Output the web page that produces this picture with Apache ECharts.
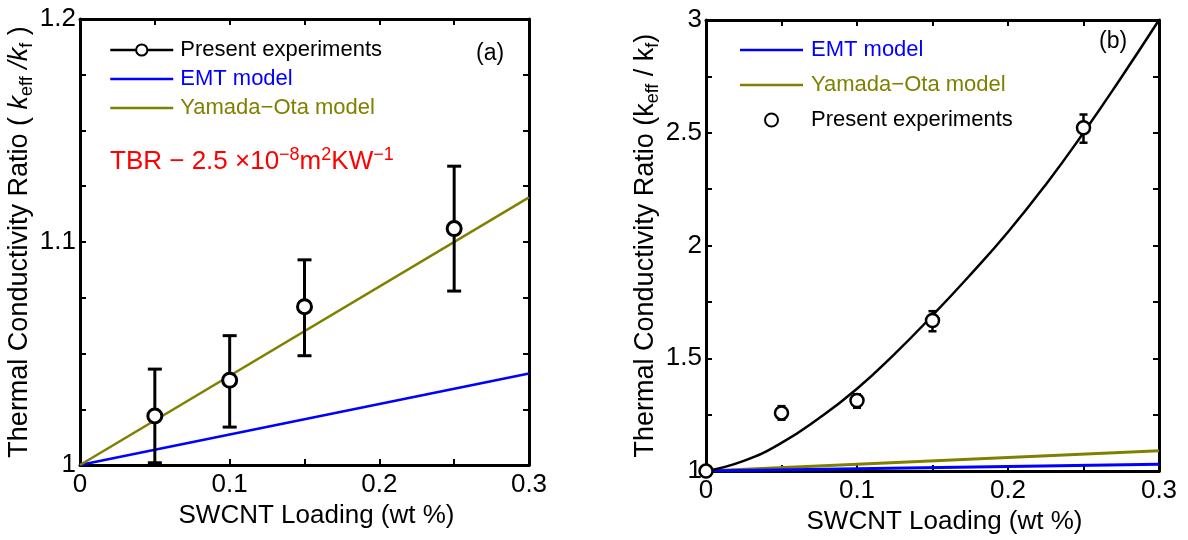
<!DOCTYPE html>
<html>
<head>
<meta charset="utf-8">
<script src="https://cdn.jsdelivr.net/npm/echarts@6/dist/echarts.min.js"></script>
<style>
  html, body { margin: 0; padding: 0; background: #fff; }
  #main { width: 1188px; height: 540px; }
</style>
</head>
<body>
<div id="main"></div>
<script>
// panel (a): measured points + models
const loadingA = [0.05, 0.1, 0.15, 0.25];
const ratioA = [1.022, 1.038, 1.071, 1.106];
const lowA = [1.001, 1.017, 1.049, 1.078];
const highA = [1.043, 1.058, 1.092, 1.134];
const modelX = [0, 0.3];
const emtA = [1, 1.041];
const yamadaA = [1, 1.12];

// panel (b)
const loadingB = [0, 0.05, 0.1, 0.15, 0.25];
const ratioB = [1, 1.258, 1.313, 1.668, 2.522];
const lowB = [1, 1.228, 1.281, 1.62, 2.456];
const highB = [1, 1.288, 1.34, 1.709, 2.581];
const emtB = [1, 1.03];
const yamadaB = [1, 1.09];
const fitX = [0, 0.025, 0.05, 0.075, 0.1, 0.125, 0.15, 0.175, 0.2, 0.225, 0.25, 0.275, 0.3];
const fitB = [1, 1.045, 1.125, 1.235, 1.365, 1.52, 1.69, 1.87, 2.06, 2.27, 2.5, 2.745, 3.0];

const FONT = 'Liberation Sans, Arial, sans-serif';
const OLIVE = '#808000';
const BLUE = '#0000ff';
// plain line icon for the model entries in the legends
const LINE_ICON = 'path://M0,0 L63,0 L63,2.5 L0,2.5 Z';

const zip = (a, b) => a.map((v, i) => [v, b[i]]);
const zip3 = (a, b, c) => a.map((v, i) => [v, b[i], c[i]]);

function errorBars(capHalf, width) {
    return function (params, api) {
        const x = api.value(0);
        const lo = api.coord([x, api.value(1)]);
        const hi = api.coord([x, api.value(2)]);
        const style = { stroke: '#000', lineWidth: width };
        return {
            type: 'group',
            children: [
                { type: 'line', shape: { x1: lo[0], y1: lo[1], x2: hi[0], y2: hi[1] }, style: style },
                { type: 'line', shape: { x1: lo[0] - capHalf, y1: lo[1], x2: lo[0] + capHalf, y2: lo[1] }, style: style },
                { type: 'line', shape: { x1: hi[0] - capHalf, y1: hi[1], x2: hi[0] + capHalf, y2: hi[1] }, style: style }
            ]
        };
    };
}

const near = (v, step) => Math.abs(v / step - Math.round(v / step)) < 1e-6;
const fmt = v => String(parseFloat(v.toFixed(3)));

function xAxisDef(grid, pos) {
    const bottom = pos === 'bottom';
    return {
        type: 'value', gridIndex: grid, position: pos, min: 0, max: 0.3, interval: 0.05,
        axisLine: { show: true, onZero: false, lineStyle: { color: '#000', width: 3 } },
        axisTick: { show: true, inside: true, length: 6, lineStyle: { color: '#000', width: 2 } },
        splitLine: { show: false },
        axisLabel: {
            show: bottom, margin: 7, color: '#000', fontSize: 26, fontFamily: FONT,
            formatter: v => near(v, 0.1) ? fmt(v) : ''
        },
        name: bottom ? 'SWCNT Loading (wt %)' : '',
        nameLocation: 'middle', nameGap: 34,
        nameTextStyle: { color: '#000', fontSize: 26, fontFamily: FONT, padding: [0, 0, 0, 24] }
    };
}

function yAxisDef(grid, pos, min, max, interval, labelStep, name, rich) {
    const left = pos === 'left';
    return {
        type: 'value', gridIndex: grid, position: pos, min: min, max: max, interval: interval,
        axisLine: { show: true, onZero: false, lineStyle: { color: '#000', width: 3 } },
        axisTick: { show: true, inside: true, length: 6, lineStyle: { color: '#000', width: 2 } },
        splitLine: { show: false },
        axisLabel: {
            show: left, margin: 4, color: '#000', fontSize: 26, fontFamily: FONT,
            formatter: v => near(v, labelStep) ? fmt(v) : ''
        },
        name: left ? name : '',
        nameLocation: 'middle', nameGap: 36, nameRotate: 90,
        nameTextStyle: { color: '#000', fontSize: 27, fontFamily: FONT, lineHeight: 32, rich: rich }
    };
}

const richA = {
    i: { fontSize: 27, fontStyle: 'italic', fontFamily: FONT, lineHeight: 32 },
    sub: { fontSize: 18, fontFamily: FONT, verticalAlign: 'bottom', lineHeight: 17 }
};
const richB = {
    sub: { fontSize: 18, fontFamily: FONT, verticalAlign: 'bottom', lineHeight: 17 }
};

const chart = echarts.init(document.getElementById('main'), null, { renderer: 'canvas' });

const option = {
    backgroundColor: '#fff',
    animation: false,
    grid: [
        { left: 80, top: 19, width: 449, height: 446 },
        { left: 706, top: 20, width: 453, height: 452 }
    ],
    xAxis: [
        xAxisDef(0, 'bottom'), xAxisDef(0, 'top'),
        xAxisDef(1, 'bottom'), xAxisDef(1, 'top')
    ],
    yAxis: [
        yAxisDef(0, 'left', 1, 1.2, 0.025, 0.1,
            'Thermal Conductivity Ratio ( {i|k}{sub|eff} {i|/k}{sub|f} )', richA),
        yAxisDef(0, 'right', 1, 1.2, 0.025, 0.1, '', richA),
        yAxisDef(1, 'left', 1, 3, 0.25, 0.5,
            'Thermal Conductivity Ratio (k{sub|eff} / k{sub|f})', richB),
        yAxisDef(1, 'right', 1, 3, 0.25, 0.5, '', richB)
    ],
    legend: [
        {
            orient: 'vertical', left: 104, top: 34, itemWidth: 63, itemHeight: 14, itemGap: 7,
            textStyle: { fontSize: 22, fontFamily: FONT, color: '#000', padding: [0, 0, 0, 2] },
            data: [
                { name: 'Present experiments', lineStyle: { color: '#000', width: 2.5, opacity: 1 } },
                { name: 'EMT model', icon: LINE_ICON, textStyle: { color: BLUE } },
                { name: 'Yamada\u2212Ota model', icon: LINE_ICON, textStyle: { color: OLIVE } }
            ]
        },
        {
            orient: 'vertical', left: 735, top: 34, itemWidth: 63, itemHeight: 13, itemGap: 13,
            textStyle: { fontSize: 22, fontFamily: FONT, color: '#000', padding: [0, 0, 0, 3] },
            data: [
                { name: 'EMT model ', icon: LINE_ICON, textStyle: { color: BLUE } },
                { name: 'Yamada\u2212Ota model ', icon: LINE_ICON, textStyle: { color: OLIVE } },
                { name: 'Present experiments ', icon: 'circle' }
            ]
        }
    ],
    graphic: [
        {
            type: 'text', left: 476, top: 42, z: 10,
            style: { text: '(a)', fontSize: 23, fontFamily: FONT, fill: '#000' }
        },
        {
            type: 'text', left: 1099, top: 30, z: 10,
            style: { text: '(b)', fontSize: 23, fontFamily: FONT, fill: '#000' }
        },
        {
            type: 'text', left: 110, top: 146, z: 10,
            style: {
                text: 'TBR \u2212 2.5 \u00d710{sup|\u22128}m{sup|2}KW{sup|\u22121}',
                fontSize: 26, fontFamily: FONT, fill: '#ff0000', lineHeight: 32,
                rich: {
                    sup: { fontSize: 18, fontFamily: FONT, fill: '#ff0000', verticalAlign: 'top', lineHeight: 17 }
                }
            }
        }
    ],
    series: [
        {
            name: 'EMT model', type: 'line', xAxisIndex: 0, yAxisIndex: 0,
            data: zip(modelX, emtA), symbol: 'none', z: 2,
            lineStyle: { color: BLUE, width: 2.5 }, itemStyle: { color: BLUE }
        },
        {
            name: 'Yamada\u2212Ota model', type: 'line', xAxisIndex: 0, yAxisIndex: 0,
            data: zip(modelX, yamadaA), symbol: 'none', z: 2,
            lineStyle: { color: OLIVE, width: 2.5 }, itemStyle: { color: OLIVE }
        },
        {
            type: 'custom', xAxisIndex: 0, yAxisIndex: 0, z: 3,
            renderItem: errorBars(7, 3),
            encode: { x: 0, y: [1, 2] },
            data: zip3(loadingA, lowA, highA)
        },
        {
            name: 'Present experiments', type: 'line', xAxisIndex: 0, yAxisIndex: 0, z: 4,
            data: zip(loadingA, ratioA), symbol: 'circle', symbolSize: 14,
            lineStyle: { opacity: 0, width: 0 },
            itemStyle: { color: '#fff', borderColor: '#000', borderWidth: 3 }
        },
        {
            name: 'Yamada\u2212Ota model ', type: 'line', xAxisIndex: 2, yAxisIndex: 2,
            data: zip(modelX, yamadaB), symbol: 'none', z: 2,
            lineStyle: { color: OLIVE, width: 3 }, itemStyle: { color: OLIVE }
        },
        {
            name: 'EMT model ', type: 'line', xAxisIndex: 2, yAxisIndex: 2,
            data: zip(modelX, emtB), symbol: 'none', z: 2,
            lineStyle: { color: BLUE, width: 3 }, itemStyle: { color: BLUE }
        },
        {
            type: 'line', xAxisIndex: 2, yAxisIndex: 2, z: 2,
            data: zip(fitX, fitB), symbol: 'none', smooth: true,
            lineStyle: { color: '#000', width: 2.5 }
        },
        {
            type: 'custom', xAxisIndex: 2, yAxisIndex: 2, z: 3,
            renderItem: errorBars(4, 2.5),
            encode: { x: 0, y: [1, 2] },
            data: zip3(loadingB, lowB, highB)
        },
        {
            name: 'Present experiments ', type: 'scatter', xAxisIndex: 2, yAxisIndex: 2, z: 4,
            data: zip(loadingB, ratioB), symbol: 'circle', symbolSize: 13,
            itemStyle: { color: '#fff', borderColor: '#000', borderWidth: 2.5, opacity: 1 }
        }
    ]
};

chart.setOption(option);
</script>
</body>
</html>
